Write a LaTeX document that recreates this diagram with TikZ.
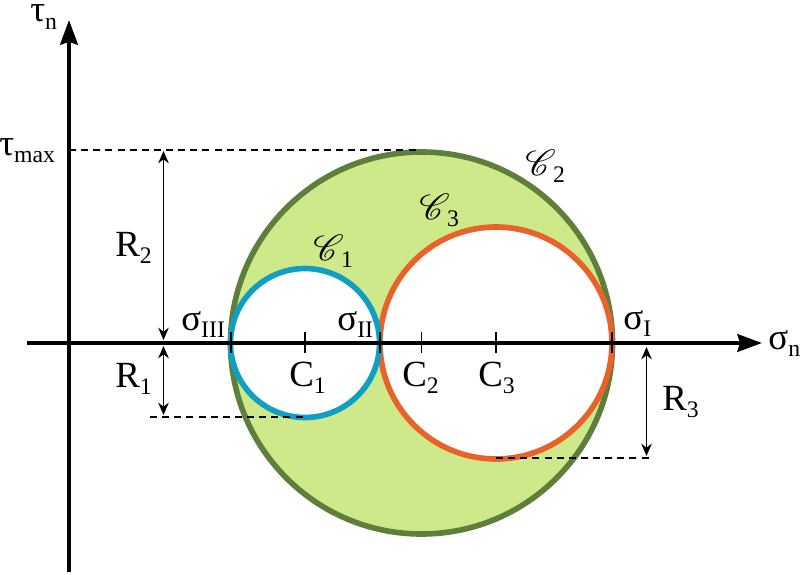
\documentclass[tikz,border=0pt]{standalone}
\usepackage{amsmath}
\usepackage{mathrsfs}
\usepackage{fontspec}
\setmainfont{Liberation Serif}
\usetikzlibrary{arrows.meta,positioning}
\definecolor{mohrgreen}{HTML}{5E7F3B}
\definecolor{mohrfill}{HTML}{CEE98A}
\definecolor{mohrblue}{HTML}{109FC3}
\definecolor{mohrorange}{HTML}{E9622B}
\newcommand{\lab}[2]{#1\raisebox{-4.2pt}{\fontsize{13.5}{15}\selectfont #2}}
\newcommand{\scr}[1]{$\mathscr{C}$\hspace{-1.5pt}\raisebox{-4.2pt}{\fontsize{13.5}{15}\selectfont #1}}
\tikzset{
    mohr/.style={draw, circle, inner sep=0pt, outer sep=0pt, line width=3.2pt},
    axis/.style={line width=2.2pt, -{Stealth[length=14pt, width=10pt, inset=1.5pt]}},
    dim/.style={line width=1.1pt, {Stealth[length=7pt, width=6pt]}-{Stealth[length=7pt, width=6pt]}},
    guide/.style={line width=0.95pt, dash pattern=on 4pt off 2.9pt},
    tick/.style={line width=1.1pt},
    lbl/.style={inner sep=0pt, anchor=base west, font=\fontsize{21}{24}\selectfont}
}
\begin{document}
\begin{tikzpicture}
    \useasboundingbox (0,0) rectangle (16,11.48);

    % circles
    \node[mohr, draw=mohrgreen, fill=mohrfill, minimum size=7.64cm] (c2) at (8.43,4.62) {};
    \node[mohr, draw=mohrorange, fill=white, minimum size=4.64cm] (c3) at (9.92,4.62) {};
    \node[mohr, draw=mohrblue, fill=white, minimum size=2.98cm] (c1) at (6.10,4.62) {};

    % axes
    \coordinate (xstart) at (0.54,4.62);
    \coordinate (xend) at (15.24,4.62);
    \coordinate (ystart) at (1.38,0.04);
    \coordinate (yend) at (1.38,11.08);
    \draw[axis] (xstart) -- (xend);
    \draw[axis] (ystart) -- (yend);

    % ticks
    \foreach \tx/\tname in {4.62/s3, 6.10/t1, 7.60/s2, 8.43/t2, 9.92/t3, 12.24/s1} {
        \coordinate (\tname top) at (\tx,4.84);
        \coordinate (\tname bot) at (\tx,4.42);
        \draw[tick] (\tname top) -- (\tname bot);
    }

    % guide lines
    \coordinate (taustart) at (1.38,8.48);
    \coordinate (tauend) at (8.36,8.48);
    \coordinate (r1start) at (3.00,3.14);
    \coordinate (r1end) at (6.14,3.14);
    \coordinate (r3start) at (9.92,2.32);
    \coordinate (r3end) at (13.04,2.32);
    \draw[guide] (taustart) -- (tauend);
    \draw[guide] (r1start) -- (r1end);
    \draw[guide] (r3start) -- (r3end);

    % radii
    \coordinate (r2top) at (3.27,8.46);
    \coordinate (r2bot) at (3.27,4.68);
    \coordinate (r1top) at (3.27,4.56);
    \coordinate (r1bot) at (3.27,3.18);
    \coordinate (r3top) at (12.93,4.54);
    \coordinate (r3bot) at (12.93,2.36);
    \draw[dim] (r2top) -- (r2bot);
    \draw[dim] (r1top) -- (r1bot);
    \draw[dim] (r3top) -- (r3bot);

    % labels
    \node[lbl] (taun) at (0.60,11.04) {\lab{τ}{n}};
    \node[lbl] (taumax) at (-0.02,8.38) {\lab{τ}{max}};
    \node[lbl] (sign) at (15.36,4.50) {\lab{σ}{n}};
    \node[lbl] (sigIII) at (3.62,4.88) {\lab{σ}{III}};
    \node[lbl] (sigII) at (6.74,4.88) {\lab{σ}{II}};
    \node[lbl] (sigI) at (12.46,4.90) {\lab{σ}{I}};
    \node[lbl] (Rtwo) at (2.30,6.36) {\lab{R}{2}};
    \node[lbl] (Rone) at (2.30,3.74) {\lab{R}{1}};
    \node[lbl] (Rthree) at (13.24,3.28) {\lab{R}{3}};
    \node[lbl] (Cone) at (5.78,3.76) {\lab{C}{1}};
    \node[lbl] (Ctwo) at (8.04,3.76) {\lab{C}{2}};
    \node[lbl] (Cthree) at (9.56,3.76) {\lab{C}{3}};
    \node[lbl] (scrone) at (6.26,6.28) {\scr{1}};
    \node[lbl] (scrthree) at (8.38,7.10) {\scr{3}};
    \node[lbl] (scrtwo) at (10.50,7.98) {\scr{2}};
\end{tikzpicture}
\end{document}
